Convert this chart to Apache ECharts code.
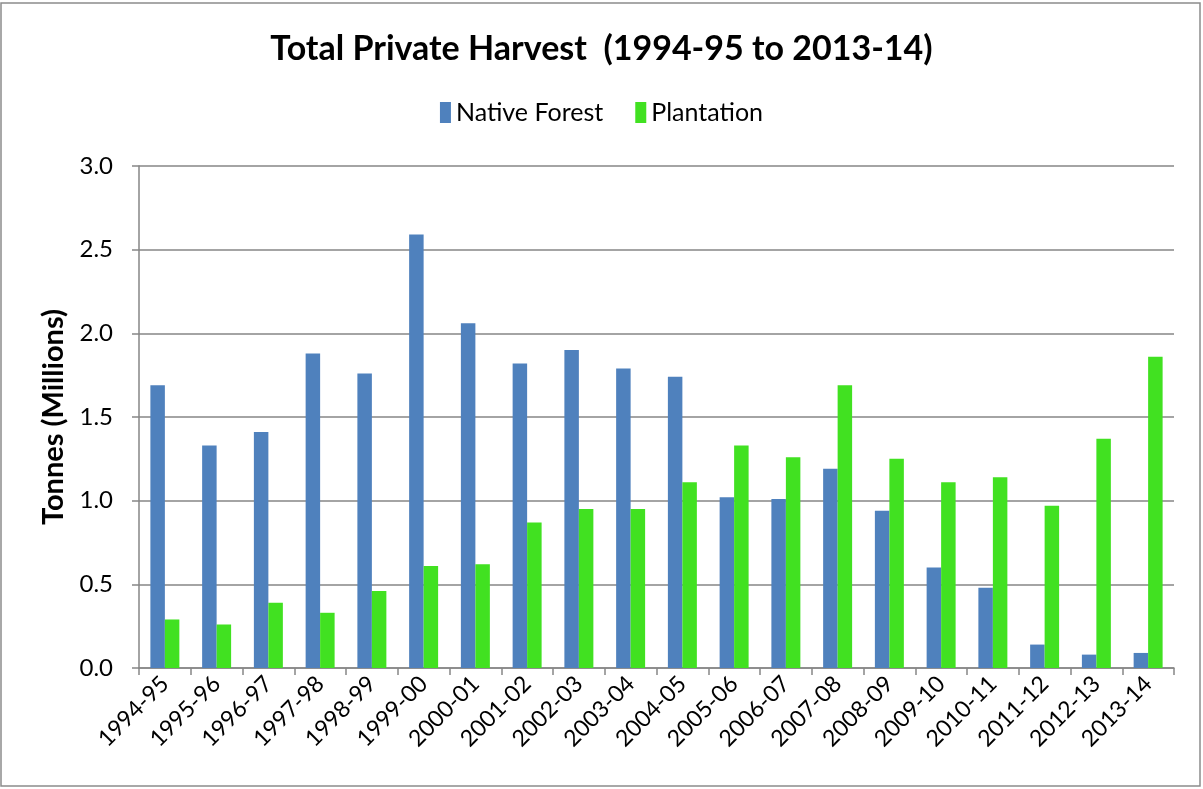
<!DOCTYPE html>
<html><head><meta charset="utf-8">
<script src="https://cdn.jsdelivr.net/npm/echarts@6/dist/echarts.min.js"></script>
<style>html,body{margin:0;padding:0;background:#fff}#c{width:1203px;height:789px}</style>
</head><body><div id="c"></div>
<script>
const categories = ['1994-95','1995-96','1996-97','1997-98','1998-99','1999-00','2000-01','2001-02','2002-03','2003-04','2004-05','2005-06','2006-07','2007-08','2008-09','2009-10','2010-11','2011-12','2012-13','2013-14'];
const nativeForest = [1.69,1.33,1.41,1.88,1.76,2.59,2.06,1.82,1.90,1.79,1.74,1.02,1.01,1.19,0.94,0.60,0.48,0.14,0.08,0.09];
const plantation = [0.29,0.26,0.39,0.33,0.46,0.61,0.62,0.87,0.95,0.95,1.11,1.33,1.26,1.69,1.25,1.11,1.14,0.97,1.37,1.86];
const yTicks = ['0.0','0.5','1.0','1.5','2.0','2.5','3.0'];

const chart = echarts.init(document.getElementById('c'), null, {renderer:'canvas'});
const FONT = 'Lato, "Open Sans", sans-serif';
chart.setOption({
  animation:false,
  backgroundColor:'#fff',
  graphic:[{type:'rect',shape:{x:1,y:3,width:1199,height:783},style:{fill:'none',stroke:'#8c8c8c',lineWidth:1.5},silent:true}],
  title:{text:'Total Private Harvest  (1994-95 to 2013-14)',left:'center',top:27,
    textStyle:{fontFamily:FONT,fontWeight:'bold',fontSize:34,color:'#000'}},
  legend:{top:95,left:'center',itemWidth:11,itemHeight:21,itemGap:32,icon:'rect',
    textStyle:{fontFamily:FONT,fontSize:25,color:'#000'},
    data:['Native Forest','Plantation']},
  grid:{left:139,right:29,top:166,bottom:121,containLabel:false},
  xAxis:{type:'category',data:categories,
    axisLine:{lineStyle:{color:'#868686',width:1.5}},
    axisTick:{show:true,length:7,alignWithLabel:false,lineStyle:{color:'#868686',width:1.5}},
    axisLabel:{rotate:45,fontFamily:FONT,fontSize:23,color:'#000',margin:12,interval:0}},
  yAxis:{type:'value',min:0,max:3,interval:0.5,
    name:'Tonnes (Millions)',nameLocation:'middle',nameGap:68,nameRotate:90,
    nameTextStyle:{fontFamily:FONT,fontWeight:'bold',fontSize:29,color:'#000'},
    axisLine:{show:true,lineStyle:{color:'#868686',width:1.5}},
    axisTick:{show:true,length:7,inside:false,lineStyle:{color:'#868686',width:1.5}},
    splitLine:{lineStyle:{color:'#868686',width:1.5}},
    axisLabel:{fontFamily:FONT,fontSize:24,color:'#000',margin:26,
      formatter:(v)=>yTicks[Math.round(v/0.5)]}},
  series:[
    {name:'Native Forest',type:'bar',data:nativeForest,barGap:'0%',barCategoryGap:'44%',
      itemStyle:{color:'#4f81bd'}},
    {name:'Plantation',type:'bar',data:plantation,
      itemStyle:{color:'#41e121'}}
  ]
});
</script></body></html>
